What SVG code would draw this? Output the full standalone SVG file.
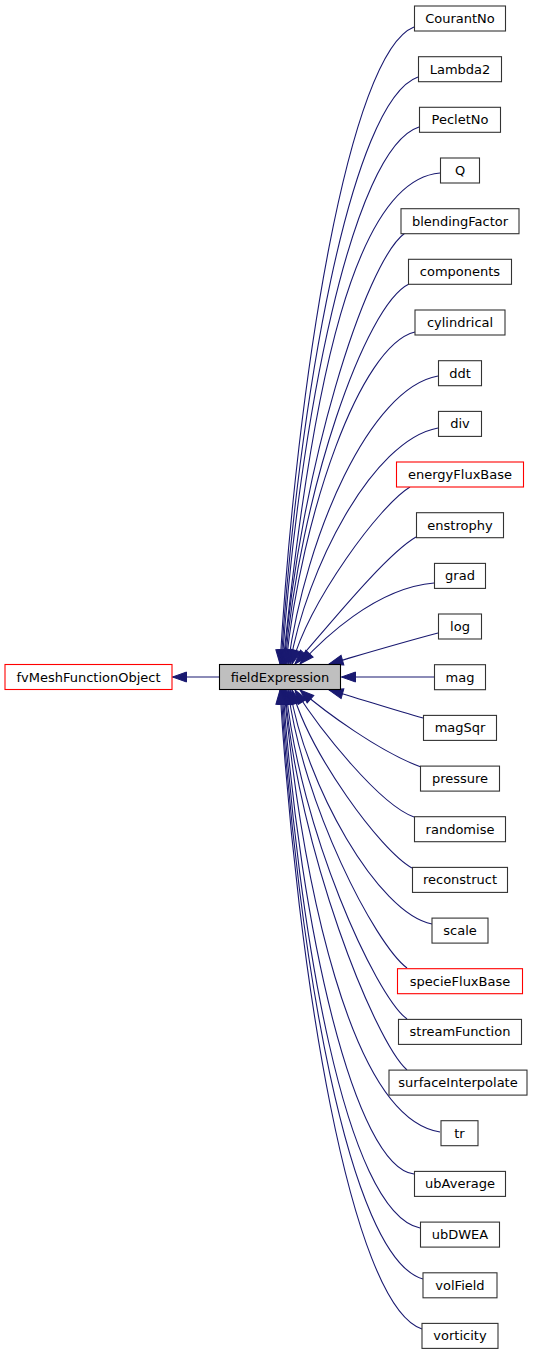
<svg xmlns="http://www.w3.org/2000/svg" width="536" height="1355" viewBox="0 0 536 1355">
<style>
.n rect{fill:#fff;stroke:#333;stroke-width:1.1}
.n.red rect{stroke:#ff0000}
.n.cur rect{fill:#bfbfbf;stroke:#000}
.n text{font-family:"DejaVu Sans",sans-serif;font-size:13px;text-anchor:middle;fill:#000}
.e path{fill:none;stroke:#191970;stroke-width:1.1;marker-end:url(#ah)}
</style>
<defs>
<marker id="ah" markerUnits="userSpaceOnUse" markerWidth="16" markerHeight="12" refX="14" refY="5" orient="auto" overflow="visible">
<path d="M0,0 L14,5 L0,10 Z" fill="#191970" stroke="#191970" stroke-width="1"/>
</marker>
</defs>
<g class="e" id="edges">
<path d="M219.5,677 L172.5,677"/>
<path d="M414,27 C349,52.5 297,377 280,664"/>
<path d="M418,77 C351,100.5 298,400 281,664"/>
<path d="M419,127 C352,148.5 299,422 282,664"/>
<path d="M440,173 C355,180 312,380 283,664"/>
<path d="M405,233 C365,262 300,470 284,664"/>
<path d="M409,284 C365,305 300,493 285,664"/>
<path d="M415,332 C360,345 301.5,514.6 286,664"/>
<path d="M438,376 C370,388 306,534 288,664"/>
<path d="M438,428 C372,440 306,570 290,664"/>
<path d="M410,487 C380,505 310,600 292,664"/>
<path d="M416,537 C385,555 325,630 295,664"/>
<path d="M434,583 C375,588 322,640 300,664"/>
<path d="M438,633 C400,643 360,655 329,664"/>
<path d="M434,677 L341.5,677"/>
<path d="M423,718 C390,709 358,698 329,690"/>
<path d="M421,767 C380,752 325,712 300,690"/>
<path d="M414,817 C380,805 320,730 295,690"/>
<path d="M412,868 C380,850 310,754 292,690"/>
<path d="M432,924 C378,914 305,784 290,690"/>
<path d="M407,968 C375,944 303,805 288,690"/>
<path d="M407,1019 C375,995 300,830 286,690"/>
<path d="M407,1070 C375,1042 298,850 285,690"/>
<path d="M440,1132 C350,1118 302,880 284,690"/>
<path d="M414,1174 C355,1167 300,930 283,690"/>
<path d="M420,1228 C345,1212 298,930 282,690"/>
<path d="M423,1279 C348,1258 297,950 281,690"/>
<path d="M422,1329 C350,1305 297,970 280,690"/>
</g>
<g class="n red" id="fvMeshFunctionObject"><rect x="5" y="664.5" width="167" height="25"/><text x="88.5" y="681.5">fvMeshFunctionObject</text></g>
<g class="n cur" id="fieldExpression"><rect x="219.5" y="664.5" width="121" height="25"/><text x="280" y="681.5">fieldExpression</text></g>
<g class="n" id="CourantNo"><rect x="414.5" y="6" width="91" height="25"/><text x="460" y="23">CourantNo</text></g>
<g class="n" id="Lambda2"><rect x="418.5" y="56.7" width="83" height="25"/><text x="460" y="73.7">Lambda2</text></g>
<g class="n" id="PecletNo"><rect x="419.5" y="107.3" width="81" height="25"/><text x="460" y="124.3">PecletNo</text></g>
<g class="n" id="Q"><rect x="440.5" y="158" width="39" height="25"/><text x="460" y="175">Q</text></g>
<g class="n" id="blendingFactor"><rect x="401" y="208.7" width="118" height="25"/><text x="460" y="225.7">blendingFactor</text></g>
<g class="n" id="components"><rect x="408.5" y="259.3" width="103" height="25"/><text x="460" y="276.3">components</text></g>
<g class="n" id="cylindrical"><rect x="415" y="310" width="90" height="25"/><text x="460" y="327">cylindrical</text></g>
<g class="n" id="ddt"><rect x="438.5" y="360.7" width="43" height="25"/><text x="460" y="377.7">ddt</text></g>
<g class="n" id="div"><rect x="438.5" y="411.4" width="43" height="25"/><text x="460" y="428.4">div</text></g>
<g class="n red" id="energyFluxBase"><rect x="396.5" y="462" width="127" height="25"/><text x="460" y="479">energyFluxBase</text></g>
<g class="n" id="enstrophy"><rect x="416.5" y="512.7" width="87" height="25"/><text x="460" y="529.7">enstrophy</text></g>
<g class="n" id="grad"><rect x="434.5" y="563.4" width="51" height="25"/><text x="460" y="580.4">grad</text></g>
<g class="n" id="log"><rect x="438.5" y="614" width="43" height="25"/><text x="460" y="631">log</text></g>
<g class="n" id="mag"><rect x="434.5" y="664.7" width="51" height="25"/><text x="460" y="681.7">mag</text></g>
<g class="n" id="magSqr"><rect x="423.5" y="715.4" width="73" height="25"/><text x="460" y="732.4">magSqr</text></g>
<g class="n" id="pressure"><rect x="420.5" y="766.1" width="79" height="25"/><text x="460" y="783.1">pressure</text></g>
<g class="n" id="randomise"><rect x="414.5" y="816.7" width="91" height="25"/><text x="460" y="833.7">randomise</text></g>
<g class="n" id="reconstruct"><rect x="412.5" y="867.4" width="95" height="25"/><text x="460" y="884.4">reconstruct</text></g>
<g class="n" id="scale"><rect x="432" y="918.1" width="56" height="25"/><text x="460" y="935.1">scale</text></g>
<g class="n red" id="specieFluxBase"><rect x="397.5" y="968.7" width="125" height="25"/><text x="460" y="985.7">specieFluxBase</text></g>
<g class="n" id="streamFunction"><rect x="398.5" y="1019.4" width="123" height="25"/><text x="460" y="1036.4">streamFunction</text></g>
<g class="n" id="surfaceInterpolate"><rect x="389" y="1070.1" width="138" height="25"/><text x="458" y="1087.1">surfaceInterpolate</text></g>
<g class="n" id="tr"><rect x="441" y="1120.7" width="37" height="25"/><text x="459.5" y="1137.7">tr</text></g>
<g class="n" id="ubAverage"><rect x="414.5" y="1171.4" width="91" height="25"/><text x="460" y="1188.4">ubAverage</text></g>
<g class="n" id="ubDWEA"><rect x="420.5" y="1222.1" width="79" height="25"/><text x="460" y="1239.1">ubDWEA</text></g>
<g class="n" id="volField"><rect x="423" y="1272.8" width="74" height="25"/><text x="460" y="1289.8">volField</text></g>
<g class="n" id="vorticity"><rect x="422" y="1323.4" width="76" height="25"/><text x="460" y="1340.4">vorticity</text></g>
</svg>
